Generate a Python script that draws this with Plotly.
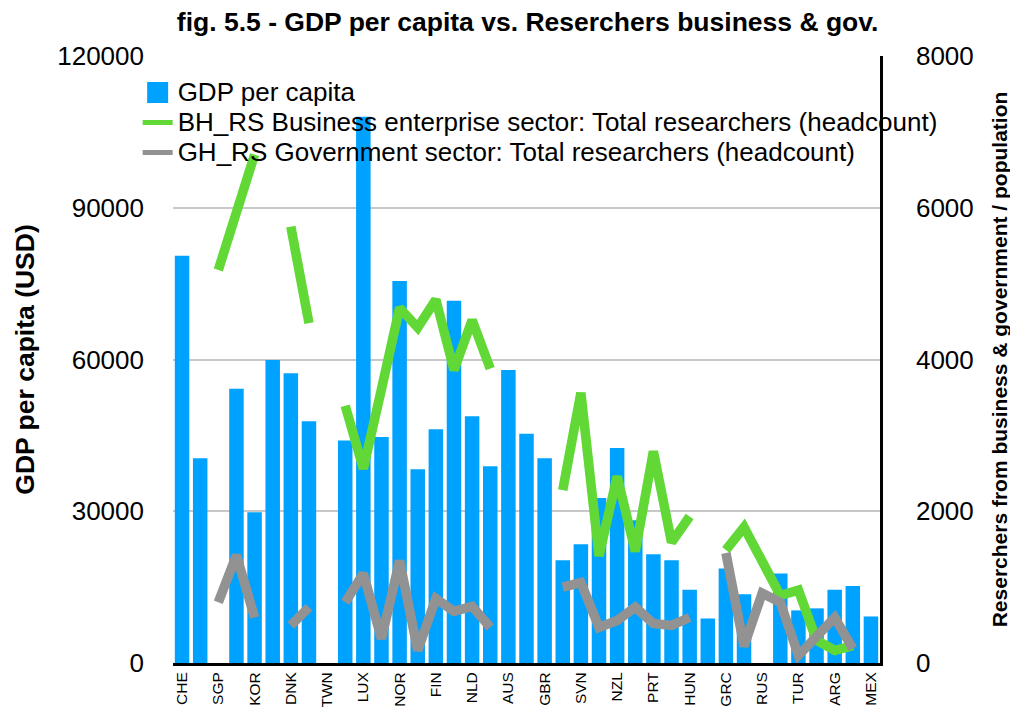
import plotly.graph_objects as go

countries = ["CHE", "ISR", "SGP", "SWE", "KOR", "ISL", "DNK", "AUT", "TWN", "USA",
             "LUX", "BEL", "NOR", "JPN", "FIN", "IRL", "NLD", "FRA", "AUS", "DEU",
             "GBR", "CZE", "SVN", "ITA", "NZL", "ESP", "PRT", "EST", "HUN", "ROU",
             "GRC", "POL", "RUS", "HRV", "TUR", "BGR", "ARG", "CHL", "MEX"]
shown_labels = countries[::2]

gdp = [80500, 40500, None, 54200, 29800, 59900, 57300, 47800, None, 44000,
       108000, 44700, 75500, 38300, 46200, 71600, 48800, 38900, 57900, 45300,
       40500, 20300, 23500, 32600, 42500, 28200, 21500, 20300, 14500, 8800,
       18700, 13600, None, 17700, 10400, 10800, 14500, 15200, 9200]

business = [None, None, 5180, 5950, 6700, None, 5750, 4480, None, 3390,
            2560, 3610, 4680, 4420, 4790, 3860, 4520, 3880, None, None,
            None, 2280, 3560, 1410, 2460, 1470, 2790, 1590, 1930, None,
            1490, 1790, 1340, 890, 960, 300, 165, 230, None]

government = [None, None, 800, 1420, 600, None, 495, 735, None, 800,
              1180, 320, 1350, 165, 850, 680, 745, 470, None, None,
              None, 1000, 1060, 470, 560, 735, 520, 495, 600, None,
              1450, 220, 920, 800, 100, 360, 600, 190, None]

series_names = ["GDP per capita",
                "BH_RS Business enterprise sector: Total researchers (headcount)",
                "GH_RS Government sector: Total researchers (headcount)"]
colors = ["#00A2FF", "#61D836", "#929292"]

FONT = "Liberation Sans, Arial, Helvetica, sans-serif"


def legend_label(s):
    return '<span style="font-size:26px">' + s + '</span>'


fig = go.Figure()
fig.add_trace(go.Bar(x=countries, y=gdp, name=series_names[0], showlegend=False,
                     marker=dict(color=colors[0], line=dict(width=0))))
fig.add_trace(go.Scatter(x=countries, y=business, yaxis="y2", mode="lines",
                         name=series_names[1], showlegend=False,
                         line=dict(color=colors[1], width=9.5), connectgaps=False))
fig.add_trace(go.Scatter(x=countries, y=government, yaxis="y2", mode="lines",
                         name=series_names[2], showlegend=False,
                         line=dict(color=colors[2], width=9.5), connectgaps=False))

# legend entries (no data)
fig.add_trace(go.Scatter(x=[None], y=[None], mode="markers", name=legend_label(series_names[0]),
                         marker=dict(symbol="square", size=16, color=colors[0],
                                     line=dict(color=colors[0], width=5))))
fig.add_trace(go.Scatter(x=[None], y=[None], mode="lines", name=legend_label(series_names[1]),
                         line=dict(color=colors[1], width=5)))
fig.add_trace(go.Scatter(x=[None], y=[None], mode="lines", name=legend_label(series_names[2]),
                         line=dict(color=colors[2], width=5)))

fig.update_layout(
    width=1010, height=699,
    margin=dict(l=165, r=138, t=48, b=44, autoexpand=False),
    paper_bgcolor="white", plot_bgcolor="white",
    font=dict(family=FONT, color="black"),
    bargap=0.2,
    title=dict(text="<b>fig. 5.5 - GDP per capita vs. Reserchers business & gov.</b>",
               x=0.5145, xanchor="center", y=0.980, yanchor="middle",
               font=dict(size=26.5, family=FONT, color="black")),
    xaxis=dict(type="category", tickmode="array", tickvals=shown_labels, ticktext=shown_labels,
               categoryorder="array", categoryarray=countries,
               tickangle=-90, tickfont=dict(size=15.5), showgrid=False, automargin=False,
               showline=True, linecolor="black", linewidth=3, ticks="", ticklabelstandoff=0,
               range=[-0.5, 38.5]),
    yaxis=dict(range=[0, 120000], tickvals=[0, 30000, 60000, 90000, 120000], tickformat="d",
               tickfont=dict(size=26), showgrid=True, gridcolor="#C8C8C8", gridwidth=1.5,
               zeroline=False, showline=False, ticks="", automargin=False, ticklabelstandoff=28,
               title=dict(text="<b>GDP per capita (USD)</b>", font=dict(size=26.5), standoff=14)),
    yaxis2=dict(range=[0, 8000], tickvals=[0, 2000, 4000, 6000, 8000], tickformat="d",
                overlaying="y", side="right", automargin=False, ticklabelstandoff=28,
                tickfont=dict(size=26), showgrid=False, zeroline=False,
                showline=True, linecolor="black", linewidth=2.5, ticks="",
                title=dict(text="<b>Reserchers from business & government / population</b>",
                           font=dict(size=21), standoff=20)),
    legend=dict(x=-0.050, y=0.973, xanchor="left", yanchor="top", bgcolor="rgba(0,0,0,0)",
                font=dict(size=20.8), tracegroupgap=0, itemwidth=30),
    showlegend=True,
)

fig.write_html("out.html")
